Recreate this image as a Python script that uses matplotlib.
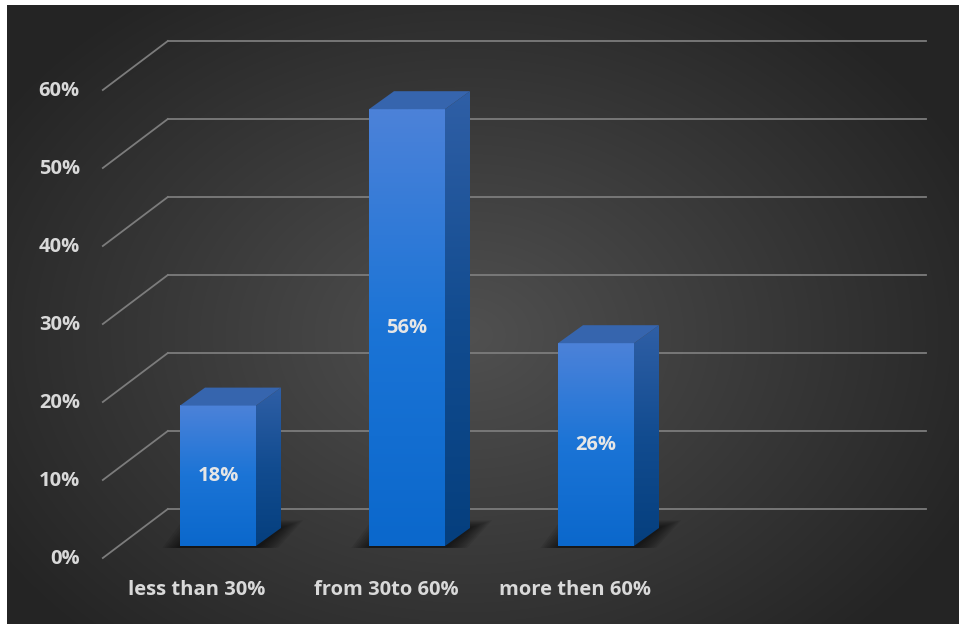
import numpy as np
import matplotlib
matplotlib.use("Agg")
import matplotlib.pyplot as plt
from matplotlib.patches import Polygon

categories = ["less than 30%", "from 30to 60%", "more then 60%"]
values = [18, 56, 26]
y_ticks = [0, 10, 20, 30, 40, 50, 60]
tick_labels = ["0%", "10%", "20%", "30%", "40%", "50%", "60%"]

W, H = 959, 624
fig = plt.figure(figsize=(W / 100, H / 100), dpi=100, facecolor="white")

# dark panel with a soft radial light
bg = fig.add_axes([7 / W, 0, 1 - 7 / W, 1 - 5 / H])
bg.axis("off")
yy, xx = np.mgrid[0:H - 5, 0:W - 7]
r = np.sqrt(((xx - 460) / 560.0) ** 2 + ((yy - 330) / 420.0) ** 2)
r = np.clip(r, 0, 1)[..., None]
c0 = np.array([0x50, 0x50, 0x50]) / 255
c1 = np.array([0x24, 0x24, 0x24]) / 255
bg.imshow(c0 * (1 - r) + c1 * r, aspect="auto", extent=[0, 1, 0, 1])
bg.set_xlim(0, 1)
bg.set_ylim(0, 1)

# main axes: data units = categories / percent on the bar plane
PX_X, PX_Y = 189.0, 7.8
x0_px, y0_px = 218, 546
xmin, xmax, ymin, ymax = -0.8, 3.6, -8, 62
ax = fig.add_axes([(x0_px + xmin * PX_X) / W, (H - y0_px + ymin * PX_Y) / H,
                   (xmax - xmin) * PX_X / W, (ymax - ymin) * PX_Y / H])
ax.axis("off")


def px(dx, dy=0):
    return dx / PX_X, dy / PX_Y


fx, fy = px(-15, -12)   # front plane
bx, by = px(50, 37)     # back wall
dx, dy = px(25, 18)     # bar depth
x_wall, x_end = -0.53, 3.48
grid_c = "#7c7c7c"
txt_c = "#d9d9d9"
font = dict(family="Open Sans", weight="bold", fontsize=14.5, color=txt_c)

for v, lab in zip(y_ticks, tick_labels):
    ax.plot([x_wall + fx, x_wall + bx], [v + fy, v + by], color=grid_c, lw=1.3,
            clip_on=False, zorder=1)
    ax.plot([x_wall + bx, x_end + bx], [v + by, v + by], color=grid_c, lw=1.3,
            clip_on=False, zorder=1)
    ax.text(x_wall + fx + px(-23)[0], v + fy + px(0, -1)[1], lab, ha="right",
            va="center", **font)

bw = 76 / PX_X
front_grad = np.array([[0x4c, 0x82, 0xd9], [0x1b, 0x74, 0xd6], [0x0b, 0x68, 0xcc]]) / 255
side_grad = np.array([[0x2f, 0x5f, 0xa6], [0x12, 0x4c, 0x90], [0x05, 0x3f, 0x7e]]) / 255


def vgrad(stops, n=100):
    t = np.linspace(0, 1, n)
    cols = np.stack([np.interp(t, [0, 0.5, 1], stops[:, k]) for k in range(3)], axis=1)
    return cols[:, None, :]


for i, (cat, v) in enumerate(zip(categories, values)):
    left, right = i - bw / 2, i + bw / 2
    # blurred floor shadow
    for s in np.linspace(22, 2, 9):
        sx, sy = px(s, s * 0.35)
        shp = Polygon([(left - sx * 0.8, -0.25), (right + sx, -0.25),
                       (right + dx + sx, dy + sy), (left + dx - sx, dy + sy)],
                      closed=True, facecolor="black", alpha=0.08, lw=0, zorder=2)
        ax.add_patch(shp)
    # front face
    ax.imshow(vgrad(front_grad), extent=[left, right, 0, v], aspect="auto",
              zorder=4, interpolation="bilinear")
    # side face
    side = Polygon([(right, 0), (right + dx, dy), (right + dx, v + dy), (right, v)],
                   closed=True, facecolor="none", lw=0, transform=ax.transData)
    ax.add_patch(side)
    ims = ax.imshow(vgrad(side_grad), extent=[right, right + dx, 0, v + dy],
                    aspect="auto", zorder=3, interpolation="bilinear")
    ims.set_clip_path(side)
    # top face
    ax.add_patch(Polygon([(left, v), (right, v), (right + dx, v + dy), (left + dx, v + dy)],
                         closed=True, facecolor="#3665ae", lw=0, zorder=4))
    ax.text(i, v / 2, f"{v}%", ha="center", va="center", zorder=6,
            **dict(font, color="#e6e6e6"))
    ax.text(i + px(-21)[0], px(0, -44)[1], cat, ha="center", va="center", **font)

ax.set_xlim(xmin, xmax)
ax.set_ylim(ymin, ymax)

fig.savefig("out.png", dpi=100, facecolor="white")
